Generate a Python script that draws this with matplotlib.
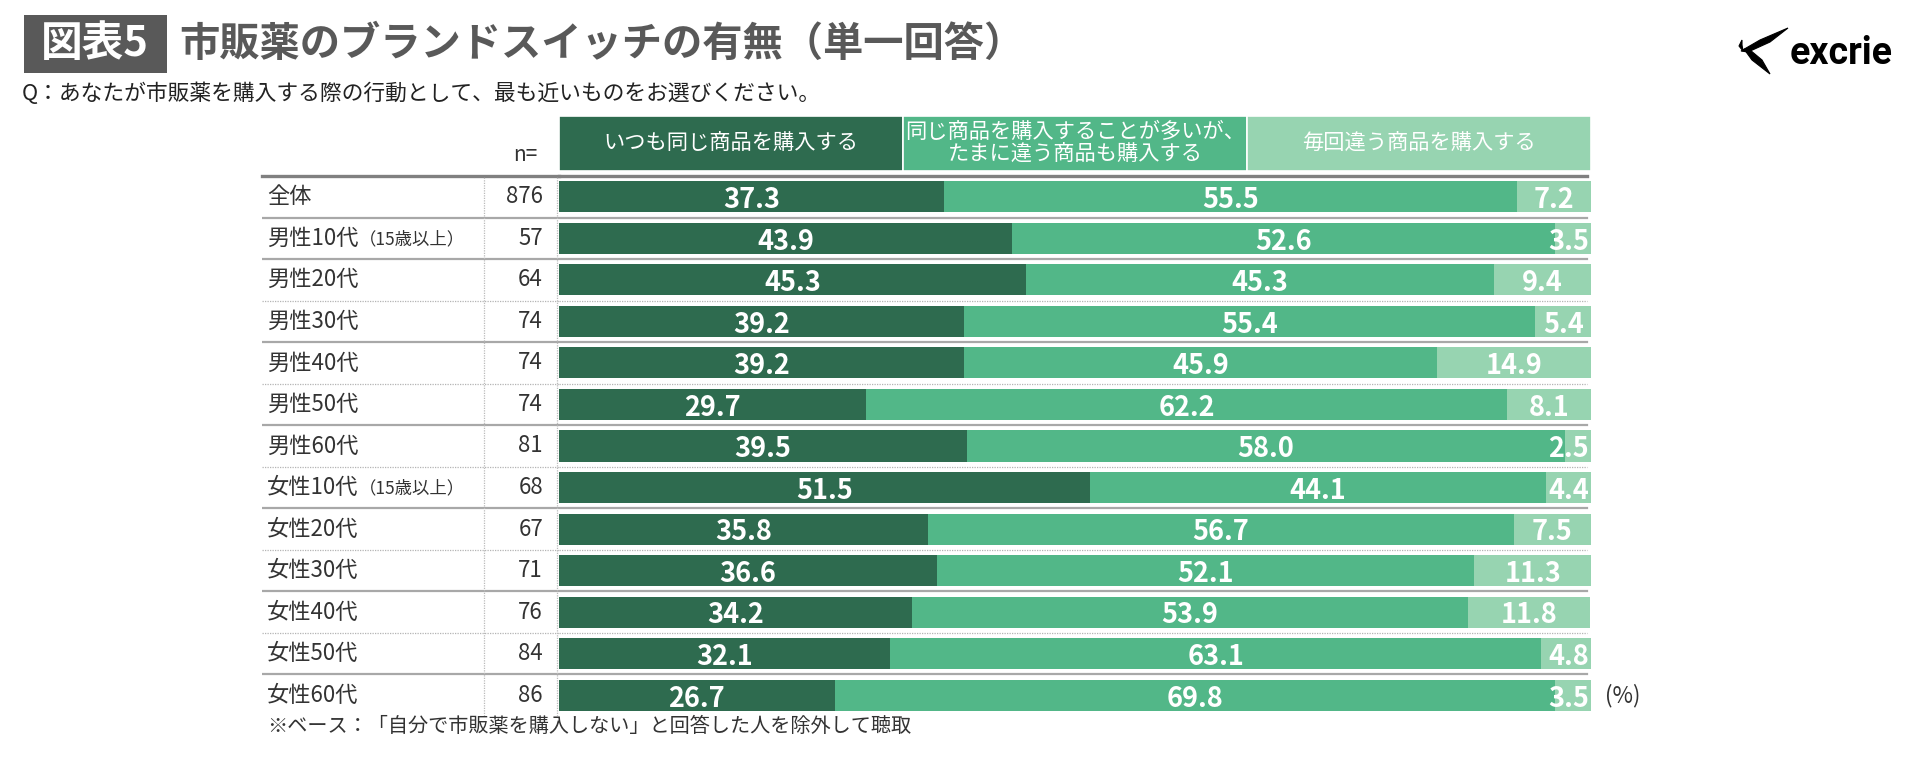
import matplotlib
matplotlib.use("Agg")
import matplotlib.pyplot as plt
import matplotlib.patches as patches

plt.rcParams['font.family'] = ['Noto Sans CJK JP', 'DejaVu Sans']

# ---- data -------------------------------------------------------------
categories = ["全体", "男性10代", "男性20代", "男性30代", "男性40代", "男性50代", "男性60代",
              "女性10代", "女性20代", "女性30代", "女性40代", "女性50代", "女性60代"]
category_notes = {"男性10代": "（15歳以上）", "女性10代": "（15歳以上）"}
n_values = [876, 57, 64, 74, 74, 74, 81, 68, 67, 71, 76, 84, 86]

series_names = ["いつも同じ商品を購入する",
                "同じ商品を購入することが多いが、\nたまに違う商品も購入する",
                "毎回違う商品を購入する"]
always_same = [37.3, 43.9, 45.3, 39.2, 39.2, 29.7, 39.5, 51.5, 35.8, 36.6, 34.2, 32.1, 26.7]
mostly_same = [55.5, 52.6, 45.3, 55.4, 45.9, 62.2, 58.0, 44.1, 56.7, 52.1, 53.9, 63.1, 69.8]
always_diff = [7.2, 3.5, 9.4, 5.4, 14.9, 8.1, 2.5, 4.4, 7.5, 11.3, 11.8, 4.8, 3.5]

# separator style below each row (except the last)
separators = ["solid", "solid", "dotted", "solid", "dotted", "solid",
              "dotted", "solid", "dotted", "solid", "dotted", "solid"]

title_tag = "図表5"
title = "市販薬のブランドスイッチの有無（単一回答）"
question = "Q：あなたが市販薬を購入する際の行動として、最も近いものをお選びください。"
footnote = "※ベース：「自分で市販薬を購入しない」と回答した人を除外して聴取"

colors = ["#2E6B4F", "#52B788", "#97D4B1"]

# ---- canvas -------------------------------------------------------------
W, H = 1919, 759
fig = plt.figure(figsize=(W / 100, H / 100), dpi=100)
fig.patch.set_facecolor("white")


def fx(x):
    return x / W


def fy(y):
    return 1 - y / H


top, bottom = 176, 716
n_rows = len(categories)
ax = fig.add_axes([fx(559), fy(bottom), fx(1591) - fx(559), fy(top) - fy(bottom)])
tab = fig.add_axes([fx(262), fy(bottom), fx(559) - fx(262), fy(top) - fy(bottom)])
for a in (ax, tab):
    a.set_ylim(n_rows - 0.5, -0.5)
    a.axis("off")
ax.set_xlim(0, 100)
tab.set_xlim(262, 559)

# ---- bars -------------------------------------------------------------
rows = list(range(n_rows))
left = [0.0] * n_rows
for vals, col in zip([always_same, mostly_same, always_diff], colors):
    ax.barh(rows, vals, left=left, height=0.75, color=col, linewidth=0)
    for r, (l, v) in enumerate(zip(left, vals)):
        if l + v > 99 and v < 5:
            # narrow end segment: keep the label inside the bar
            x, ha = l + v - 0.2, "right"
        else:
            x, ha = l + v / 2, "center"
        ax.text(x, r + 0.08, f"{v:.1f}", ha=ha, va="center",
                color="white", fontsize=19.5, fontweight="bold")
    left = [l + v for l, v in zip(left, vals)]

# ---- headers ----------------------------------------------------------
for i, (name, col) in enumerate(zip(series_names, colors)):
    ax.add_patch(patches.Rectangle((i * 100 / 3, -1.95), 100 / 3, 1.32,
                                   facecolor=col, edgecolor="white", linewidth=1.2,
                                   clip_on=False))
    ax.text(i * 100 / 3 + 100 / 6, -1.29, name, ha="center", va="center",
            color="white", fontsize=15.3, linespacing=1.0)

# ---- table ------------------------------------------------------------
tab.text(537, -1.0, "n=", ha="right", va="center", fontsize=15, color="#333333")
for r, (cat, n) in enumerate(zip(categories, n_values)):
    t = tab.text(267, r, cat, ha="left", va="center", fontsize=16, color="#333333")
    if cat in category_notes:
        tab.annotate(category_notes[cat], xy=(1, 0.45), xycoords=t, ha="left",
                     va="center", fontsize=12.5, color="#333333")
    tab.text(543, r, str(n), ha="right", va="center", fontsize=16, color="#333333")

# header rule
tab.axhline(-0.5, 0, 1, color="#808080", linewidth=2.4, clip_on=False)
ax.axhline(-0.5, 0, 0.996, color="#808080", linewidth=2.4, clip_on=False)
# row separators
for r, style in enumerate(separators):
    if style == "solid":
        kw = dict(color="#A8A8A8", linewidth=1.6, linestyle="-")
    else:
        kw = dict(color="#B4B4B4", linewidth=0.9, linestyle=(0, (1, 1)))
    tab.axhline(r + 0.5, 0, 1, **kw)
    ax.axhline(r + 0.5, 0, 0.996, **kw)
# column rules
for x in (484, 557):
    tab.axvline(x, 0, 1, color="#BBBBBB", linewidth=0.9, linestyle=(0, (1, 1)))

ax.text(101.4, n_rows - 1, "(%)", ha="left", va="center", fontsize=16, color="#333333")

# ---- title and notes -------------------------------------------------
fig.patches.append(patches.Rectangle((fx(24), fy(73)), fx(167) - fx(24), fy(15) - fy(73),
                                     transform=fig.transFigure, facecolor="#595959",
                                     edgecolor="none"))
fig.text(fx(95), fy(44), title_tag, ha="center", va="center", color="white",
         fontsize=30, fontweight="bold")
fig.text(fx(179), fy(44), title, ha="left", va="center", color="#595959",
         fontsize=29, fontweight="bold")
fig.text(fx(22), fy(94), question, ha="left", va="center", color="#222222", fontsize=15.7)
fig.text(fx(267), fy(727), footnote, ha="left", va="center", color="#333333", fontsize=14.5)

# ---- logo ---------------------------------------------------------------
upper = [(1788, 28), (1760, 40), (1741, 51), (1748, 52), (1770, 42)]
lower = [(1744, 49), (1752, 60), (1770, 74), (1762, 60), (1750, 50)]
tail = [(1742, 40), (1739, 46), (1743, 51), (1742, 45)]
for shape in (upper, lower, tail):
    fig.patches.append(patches.Polygon([(fx(x), fy(y)) for x, y in shape], closed=True,
                                       transform=fig.transFigure, facecolor="black",
                                       edgecolor="black", linewidth=0.8))
fig.text(fx(1790), fy(64), "excrie", ha="left", va="baseline", color="black",
         fontsize=27, fontweight="bold", family="Roboto")

fig.savefig("out.png", dpi=100)
